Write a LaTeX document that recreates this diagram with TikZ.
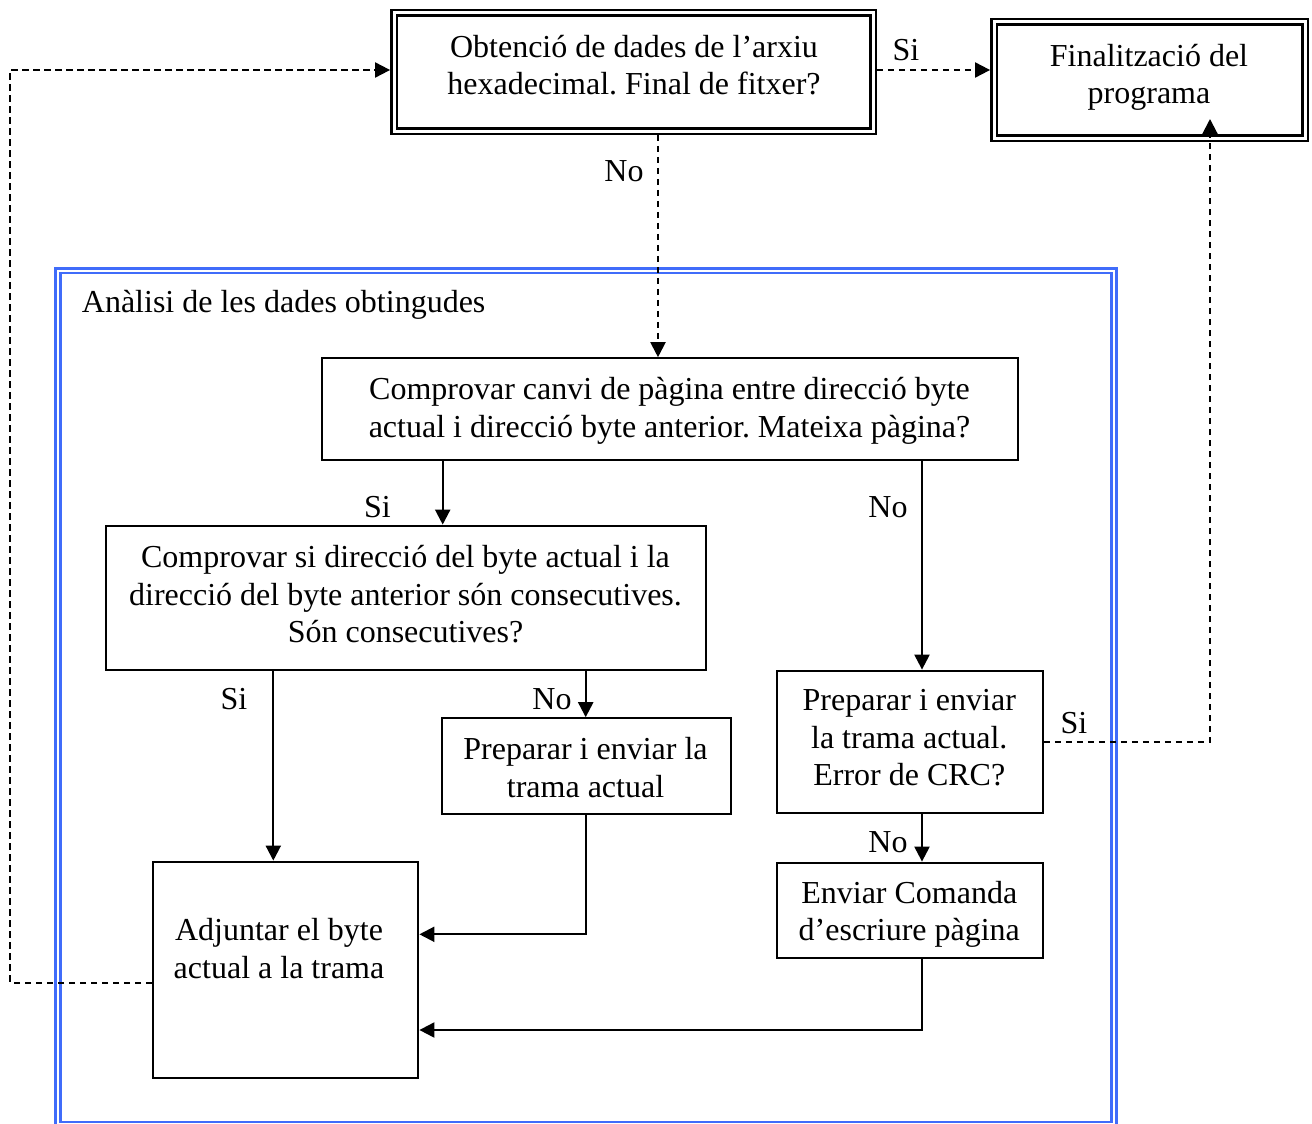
\documentclass[tikz,border=0pt]{standalone}
\usepackage{fontspec}
\setmainfont{Liberation Serif}
\usetikzlibrary{arrows.meta}
\definecolor{frameblue}{RGB}{64,108,250}
\newcommand\chartfont{\fontsize{32}{37.5}\selectfont\frenchspacing}

\begin{document}
\begin{tikzpicture}[x=1pt,y=-1pt,
  box/.style={draw, line width=2.2pt, inner sep=0pt},
  dbox/.style={draw, line width=2.4pt, double, double distance=3pt, inner sep=0pt, outer sep=3.9pt},
  txt/.style={font=\chartfont, align=center, inner sep=0pt},
  lbl/.style={font=\chartfont, inner sep=0pt, anchor=base},
  link/.style={line width=2.2pt, -{Triangle[length=15pt,width=15pt]}},
  dlink/.style={line width=2pt, dash pattern=on 6.5pt off 4.5pt, -{Triangle[length=15pt,width=15pt]}},
]
\useasboundingbox (0,0) rectangle (1312,1124);

% frame of the analysis block
\draw[frameblue, line width=3pt] (55.5,268) rectangle (1116,1126);
\draw[frameblue, line width=2.2pt] (60.5,273) rectangle (1111.5,1121.8);
\node[lbl, anchor=base west] (frametitle) at (81.7,312) {Anàlisi de les dades obtingudes};

% boxes
\node[dbox, minimum width=479, minimum height=118] (top) at (633.5,72) {};
\node[dbox, minimum width=311, minimum height=116] (fin) at (1149.5,80) {};
\node[box, minimum width=696.6, minimum height=101.7] (b1) at (670,409.15) {};
\node[box, minimum width=600.3, minimum height=144.3] (b2) at (405.85,597.85) {};
\node[box, minimum width=289, minimum height=96] (prep) at (586.2,766.3) {};
\node[box, minimum width=265.4, minimum height=142.6] (crc) at (910,742) {};
\node[box, minimum width=265.4, minimum height=95] (env) at (910,910.2) {};
\node[box, minimum width=265, minimum height=216] (adj) at (285.8,969.7) {};

% box texts
\node[txt] (toptext) at (634,68.5) {\strut Obtenció de dades de l’arxiu\\\strut hexadecimal. Final de fitxer?};
\node[txt] (fintext) at (1149,77.5) {\strut Finalització del\\\strut programa};
\node[txt] (b1text) at (669.5,411) {\strut Comprovar canvi de pàgina entre direcció byte\\\strut actual i direcció byte anterior. Mateixa pàgina?};
\node[txt] (b2text) at (405.5,597.5) {\strut Comprovar si direcció del byte actual i la\\\strut direcció del byte anterior són consecutives.\\\strut Són consecutives?};
\node[txt] (preptext) at (585.5,771) {\strut Preparar i enviar la\\\strut trama actual};
\node[txt] (crctext) at (909.3,740.6) {\strut Preparar i enviar\\\strut la trama actual.\\\strut Error de CRC?};
\node[txt] (envtext) at (909.3,914.5) {\strut Enviar Comanda\\\strut d’escriure pàgina};
\node[txt] (adjtext) at (279,952) {\strut Adjuntar el byte\\\strut actual a la trama};

% guide coordinates for the connectors
\coordinate (xa) at (658,0);
\coordinate (xs1) at (442.7,0);
\coordinate (xs2) at (922,0);
\coordinate (xs3) at (273.3,0);
\coordinate (xs4) at (585.7,0);
\coordinate (ya) at (0,70);
\coordinate (yb) at (0,934.3);
\coordinate (yc) at (0,1030);
\coordinate (yd) at (0,982.7);
\coordinate (lt) at (10,70);
\coordinate (finin) at (1210,119);

% dashed connectors
\draw[dlink] (top.south -| xa) -- (b1.north -| xa);
\draw[dlink] (top.east |- ya) -- (fin.west |- ya);
\draw[dlink] (crc.east) -| (finin);
\draw[dlink] (adj.west |- yd) -| (lt) -- (top.west |- ya);

% solid connectors
\draw[link] (b1.south -| xs1) -- (b2.north -| xs1);
\draw[link] (b1.south -| xs2) -- (crc.north -| xs2);
\draw[link] (b2.south -| xs3) -- (adj.north -| xs3);
\draw[link] (b2.south -| xs4) -- (prep.north -| xs4);
\draw[link] (prep.south -| xs4) |- (adj.east |- yb);
\draw[link] (crc.south -| xs2) -- (env.north -| xs2);
\draw[link] (env.south -| xs2) |- (adj.east |- yc);

% branch labels
\node[lbl] (l1) at (624,181.5) {No};
\node[lbl] (l2) at (906,60.5) {Si};
\node[lbl] (l3) at (377.5,517.5) {Si};
\node[lbl] (l4) at (888,517.5) {No};
\node[lbl] (l5) at (234,709.5) {Si};
\node[lbl] (l6) at (552,709.5) {No};
\node[lbl] (l7) at (1074,733.5) {Si};
\node[lbl] (l8) at (888,852.5) {No};
\end{tikzpicture}
\end{document}
